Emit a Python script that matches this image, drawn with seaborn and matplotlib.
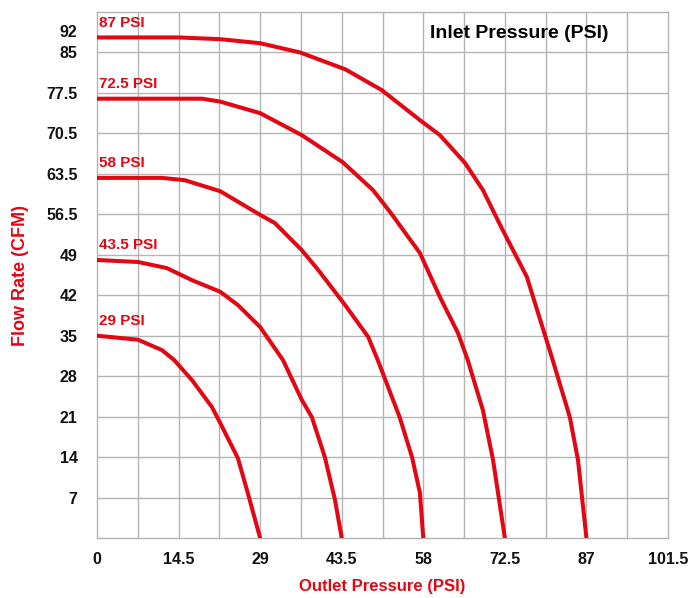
import matplotlib
matplotlib.use("Agg")
import matplotlib.pyplot as plt
import seaborn as sns
import pandas as pd

# Outlet pressure (PSI) and flow rate (grid units of the chart) per inlet pressure curve
x_87 = [0, 14.4, 21.9, 29.0, 36.1, 44.1, 50.6, 57.4, 60.95, 65.4, 68.6, 72.1, 76.4, 81.0, 84.05, 85.5, 87.0]
y_87 = [86.6, 86.6, 86.3, 85.6, 84.0, 81.1, 77.5, 72.3, 69.7, 64.9, 60.2, 53.3, 45.2, 30.8, 20.9, 13.5, 0]

x_725 = [0, 18.7, 21.9, 29.0, 36.4, 43.7, 49.05, 52.1, 57.4, 60.95, 64.15, 65.9, 68.6, 70.4, 72.5]
y_725 = [76.0, 76.0, 75.5, 73.5, 69.7, 65.0, 60.2, 56.4, 49.3, 41.7, 35.5, 30.8, 22.1, 13.5, 0]

x_58 = [0, 11.55, 15.6, 21.9, 29.0, 31.6, 36.4, 39.3, 44.1, 48.2, 49.9, 53.8, 56.0, 57.4, 58.0]
y_58 = [62.3, 62.3, 61.9, 60.0, 55.9, 54.5, 49.8, 46.4, 40.3, 34.8, 30.8, 20.9, 14.0, 7.8, 0]

x_435 = [0, 7.3, 12.4, 16.9, 21.9, 25.05, 29.0, 33.05, 36.4, 38.2, 40.5, 42.3, 43.5]
y_435 = [48.1, 47.75, 46.7, 44.6, 42.6, 40.3, 36.5, 30.8, 23.9, 20.9, 14.0, 6.6, 0]

x_29 = [0, 7.3, 11.55, 13.7, 16.9, 20.4, 21.9, 25.05, 26.8, 29.0]
y_29 = [35.0, 34.3, 32.5, 30.8, 27.3, 22.7, 19.9, 13.8, 7.8, 0]

curve_names = ["87 PSI", "72.5 PSI", "58 PSI", "43.5 PSI", "29 PSI"]
curve_x = [x_87, x_725, x_58, x_435, x_29]
curve_y = [y_87, y_725, y_58, y_435, y_29]

x_ticks = [0, 14.5, 29, 43.5, 58, 72.5, 87, 101.5]
x_tick_labels = ["0", "14.5", "29", "43.5", "58", "72.5", "87", "101.5"]
y_tick_pos = [7, 14, 21, 28, 35, 42, 49, 56, 63, 70, 77, 84, 87.7]
y_tick_labels = ["7", "14", "21", "28", "35", "42", "49", "56.5", "63.5", "70.5", "77.5", "85", "92"]

rows = []
for name, xs, ys in zip(curve_names, curve_x, curve_y):
    for a, b in zip(xs, ys):
        rows.append({"outlet": a, "flow": b, "inlet": name})
df = pd.DataFrame(rows)

sns.set_theme(style="white")
plt.rcParams["font.family"] = ["Liberation Sans", "DejaVu Sans"]

RED = "#E30613"
GRID = "#b4b4b4"

fig = plt.figure(figsize=(6.96, 5.98), dpi=100)
ax = fig.add_axes([97 / 696, 60 / 598, 571 / 696, 526 / 598])

sns.lineplot(data=df, x="outlet", y="flow", hue="inlet", hue_order=curve_names,
             palette=[RED] * 5, estimator=None, sort=False, linewidth=2.9,
             legend=False, ax=ax, zorder=3)
for ln in ax.lines:
    ln.set_solid_joinstyle("round")

ax.set_xlim(0, 101.5)
ax.set_ylim(0, 91)

# grid
for gx in [7.25 * k for k in range(1, 14)]:
    ax.axvline(gx, color=GRID, lw=1.0, zorder=1)
for gy in [7 * k for k in range(1, 13)]:
    ax.axhline(gy, color=GRID, lw=1.0, zorder=1)
for s in ax.spines.values():
    s.set_color(GRID)
    s.set_linewidth(1.0)

ax.set_xticks(x_ticks)
ax.set_xticklabels(x_tick_labels, fontsize=11.5, fontweight="bold", color="#111111")
ax.set_yticks(y_tick_pos)
ax.set_yticklabels(y_tick_labels, fontsize=11.5, fontweight="bold", color="#111111")
ax.tick_params(axis="x", length=0, pad=10)
ax.tick_params(axis="y", length=0, pad=14)

ax.set_xlabel("Outlet Pressure (PSI)", fontsize=12, fontweight="bold", color=RED, labelpad=9)
ax.set_ylabel("Flow Rate (CFM)", fontsize=13, fontweight="bold", color=RED, labelpad=12)

for name, ys in zip(curve_names, curve_y):
    ax.text(0.4, ys[0] + 1.3, name, color=RED, fontsize=11, fontweight="bold",
            ha="left", va="bottom", zorder=4)

ax.text(75.0, 87.2, "Inlet Pressure (PSI)", color="black", fontsize=14,
        fontweight="bold", ha="center", va="center", zorder=4)

fig.savefig("out.png", dpi=100)
